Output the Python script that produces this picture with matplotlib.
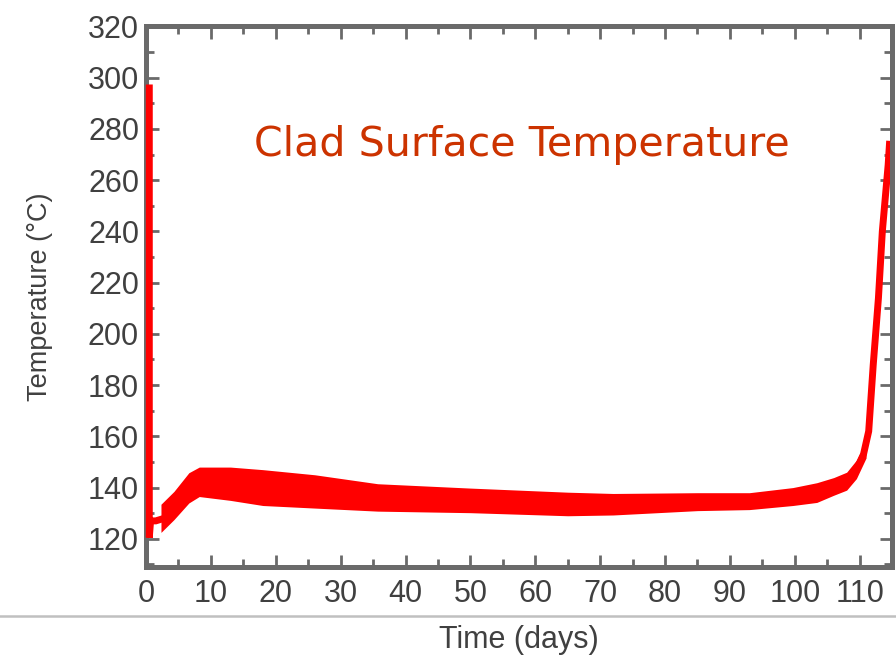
import numpy as np
import matplotlib
matplotlib.use("Agg")
import matplotlib.pyplot as plt
from matplotlib.lines import Line2D
from matplotlib.ticker import MultipleLocator

# clad surface temperature
# band (daily swing) between lower and upper envelope
time_band = [2.3, 4.3, 6.6, 8.2, 13, 18, 26, 35.7, 50, 65, 72, 85, 93, 99.7, 103.4, 106, 108, 109.5, 111]
temp_low = [122.5, 127.5, 134, 136.5, 135, 133, 132, 130.8, 130.2, 129, 129.3, 131, 131.4, 133, 134.2, 137, 139, 143.5, 151.6]
temp_high = [133.5, 138.5, 145.8, 148, 148, 147, 145, 141.5, 139.8, 138.2, 137.7, 138, 138, 140, 141.9, 143.9, 146, 150.7, 158]

# start-up spike and the final heat-up
time_start = [0.5, 0.5, 0.7, 1.5, 2.8]
temp_start = [296, 120.5, 127, 127, 128]
time_end = [108, 109.5, 110.6, 111.4, 112.1, 112.9, 113.5, 114.4, 114.6]
temp_end = [142.5, 147, 153, 162, 188, 214, 240, 266, 274]

title = "Clad Surface Temperature"
grey = "#6a6a6a"
txt = "#404040"

fig = plt.figure(figsize=(8.96, 6.57), dpi=100)
ax = fig.add_axes([0.163, 0.137, 0.8326, 0.8227])

ax.fill_between(time_band, temp_low, temp_high, color="red", lw=0, zorder=2)
ax.plot(time_start, temp_start, color="red", lw=5, solid_joinstyle="miter",
        zorder=3, clip_on=False)
ax.plot(time_end, temp_end, color="red", lw=5, zorder=2)

ax.set_xlim(0, 115)
ax.set_ylim(109, 320)
ax.xaxis.set_major_locator(MultipleLocator(10))
ax.xaxis.set_minor_locator(MultipleLocator(5))
ax.yaxis.set_major_locator(MultipleLocator(20))
ax.yaxis.set_minor_locator(MultipleLocator(10))

for s in ax.spines.values():
    s.set_color(grey)
    s.set_linewidth(3.6)

ax.tick_params(which="both", direction="in", top=True, right=True, color=grey, width=2)
ax.tick_params(which="major", length=9)
ax.tick_params(which="minor", length=6)
ax.tick_params(axis="x", pad=9)
ax.tick_params(axis="y", pad=5)
for lab in ax.get_xticklabels() + ax.get_yticklabels():
    lab.set_family("Liberation Sans")
    lab.set_fontsize(22)
    lab.set_color(txt)

ax.set_xlabel("Time (days)", family="Liberation Sans", fontsize=22, color=txt)
ax.xaxis.set_label_coords(0.5, -0.108)
ax.set_ylabel("Temperature (°C)", family="Liberation Sans", fontsize=19.5, color=txt)
ax.yaxis.set_label_coords(-0.125, 0.5)

ax.text(0.1446, 0.761, title, transform=ax.transAxes, ha="left", va="baseline",
        fontsize=29.6, color="#CC3300", family="DejaVu Sans")

# light rule above the axis title
fig.add_artist(Line2D([0, 1], [0.0624, 0.0624], transform=fig.transFigure,
                      color="#c0c0c0", lw=1.8))

fig.savefig("out.png", dpi=100)
